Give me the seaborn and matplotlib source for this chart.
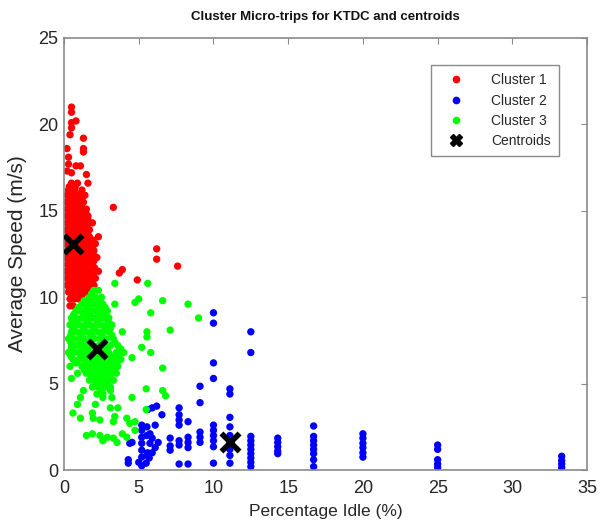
import matplotlib
matplotlib.use("Agg")
import matplotlib.pyplot as plt
from matplotlib.lines import Line2D
import seaborn as sns
import pandas as pd

# ---------------- data ----------------
cluster1_points = [
    (0.5, 21.0), (0.5, 20.7), (0.8, 20.2), (0.5, 20.1), (0.5, 19.8), (0.4, 19.4),
    (1.3, 19.2), (1.3, 18.6), (1.3, 18.4), (0.2, 18.6), (0.3, 18.1), (0.3, 17.7),
    (0.8, 17.6), (1.1, 17.6), (0.2, 17.3), (0.5, 17.2), (1.5, 17.1),
    (0.5, 16.6), (0.9, 16.6), (1.6, 16.6), (0.3, 16.2), (0.7, 16.2), (1.2, 16.2),
    (0.2, 15.9), (0.5, 15.9), (0.8, 15.9), (1.0, 15.9), (1.4, 15.9),
    (0.1, 15.5), (0.4, 15.5), (0.6, 15.5), (1.0, 15.5), (1.3, 15.5),
    (0.2, 15.1), (0.5, 15.1), (0.8, 15.1), (1.1, 15.1), (1.5, 15.1), (3.3, 15.2),
    (0.1, 14.7), (0.3, 14.7), (0.6, 14.7), (0.9, 14.7), (1.2, 14.7), (1.6, 14.7),
    (0.2, 14.3), (0.5, 14.3), (0.8, 14.3), (1.0, 14.3), (1.4, 14.3), (1.9, 14.3),
    (0.1, 13.9), (0.3, 13.9), (0.6, 13.9), (0.9, 13.9), (1.2, 13.9), (1.5, 13.9), (1.7, 13.9),
    (0.2, 13.5), (0.4, 13.5), (0.7, 13.5), (1.0, 13.5), (1.3, 13.5), (1.7, 13.5), (2.3, 13.5),
    (0.1, 13.1), (0.3, 13.1), (0.5, 13.1), (0.8, 13.1), (1.1, 13.1), (1.4, 13.1), (1.8, 13.1), (2.1, 13.1),
    (0.2, 12.7), (0.4, 12.7), (0.7, 12.7), (1.0, 12.7), (1.3, 12.7), (1.6, 12.7), (2.0, 12.7), (6.2, 12.8),
    (0.1, 12.3), (0.3, 12.3), (0.6, 12.3), (0.9, 12.3), (1.2, 12.3), (1.5, 12.3), (1.8, 12.3), (2.2, 12.3), (6.2, 12.2),
    (0.2, 11.9), (0.4, 11.9), (0.7, 11.9), (1.0, 11.9), (1.3, 11.9), (1.6, 11.9), (1.9, 11.9), (7.6, 11.8),
    (0.1, 11.5), (0.3, 11.5), (0.6, 11.5), (0.9, 11.5), (1.2, 11.5), (1.5, 11.5), (1.8, 11.5), (2.3, 11.5),
    (3.9, 11.6), (3.7, 11.4),
    (0.2, 11.1), (0.4, 11.1), (0.7, 11.1), (1.0, 11.1), (1.3, 11.1), (1.6, 11.1), (2.1, 11.1), (4.9, 11.0),
    (0.2, 10.7), (0.5, 10.7), (0.8, 10.7), (1.1, 10.7), (1.4, 10.7), (1.7, 10.7), (2.0, 10.7),
    (0.3, 10.3), (0.5, 10.3), (0.8, 10.3), (1.1, 10.3), (1.4, 10.3),
    (0.4, 9.9), (0.7, 9.9), (1.0, 9.9), (0.4, 9.5), (0.6, 9.5),
    # points between the rows of the dense core
    (0.35, 16.4), (0.75, 16.4), (1.15, 16.0), (0.35, 15.7), (0.75, 15.7), (1.15, 15.7),
    (0.35, 15.3), (0.75, 15.3), (1.15, 15.3), (0.35, 14.9), (0.75, 14.9), (1.15, 14.9), (1.45, 14.9),
    (0.35, 14.5), (0.75, 14.5), (1.15, 14.5), (1.6, 14.5), (0.35, 14.1), (0.75, 14.1), (1.15, 14.1), (1.55, 14.1),
    (0.35, 13.7), (0.75, 13.7), (1.15, 13.7), (1.55, 13.7), (0.35, 13.3), (0.75, 13.3), (1.15, 13.3), (1.55, 13.3), (1.95, 13.3),
    (0.35, 12.9), (0.75, 12.9), (1.15, 12.9), (1.55, 12.9), (1.9, 12.9), (0.35, 12.5), (0.75, 12.5), (1.15, 12.5), (1.55, 12.5), (1.95, 12.5),
    (0.35, 12.1), (0.75, 12.1), (1.15, 12.1), (1.55, 12.1), (2.0, 12.1), (0.35, 11.7), (0.75, 11.7), (1.15, 11.7), (1.55, 11.7), (2.05, 11.7),
    (0.35, 11.3), (0.75, 11.3), (1.15, 11.3), (1.55, 11.3), (1.95, 11.3), (0.35, 10.9), (0.75, 10.9), (1.15, 10.9), (1.55, 10.9), (1.85, 10.9),
    (0.35, 10.5), (0.75, 10.5), (1.15, 10.5), (1.55, 10.5), (0.55, 10.1), (0.9, 10.1), (1.2, 10.1),
]

cluster2_points = [
    (4.3, 0.4), (4.3, 0.6), (4.4, 1.55), (4.55, 1.6), (5.0, 0.45), (5.2, 0.25), (5.2, 0.75),
    (5.2, 1.15), (5.2, 1.55), (5.2, 1.9), (5.2, 2.3), (5.2, 2.6), (5.5, 0.4), (5.55, 0.85),
    (5.55, 2.0), (5.55, 2.5), (5.6, 1.0), (5.6, 3.5), (5.7, 0.7), (5.75, 1.55), (5.75, 2.1),
    (5.9, 1.0), (5.9, 1.85), (5.9, 3.6), (6.1, 1.3), (6.1, 2.6), (6.2, 3.7), (6.3, 1.6), (6.55, 3.2),
    (7.1, 1.15), (7.1, 1.4), (7.1, 1.85),
    (7.7, 0.35), (7.7, 1.45), (7.7, 1.7), (7.7, 2.6), (7.7, 2.9), (7.7, 3.2), (7.7, 3.6),
    (8.3, 0.35), (8.3, 1.3), (8.3, 1.6), (8.3, 1.9), (8.3, 2.8),
    (9.1, 1.6), (9.1, 1.9), (9.1, 2.2), (9.1, 3.9), (9.1, 4.85),
    (10.0, 0.4), (10.0, 1.35), (10.0, 1.7), (10.0, 2.0), (10.0, 2.3), (10.0, 2.6),
    (10.0, 5.3), (10.0, 6.2), (10.0, 8.5), (10.0, 9.1),
    (11.1, 0.4), (11.1, 0.85), (11.1, 1.2), (11.1, 2.0), (11.1, 2.5), (11.1, 3.05), (11.1, 4.4), (11.1, 4.7),
    (12.5, 0.2), (12.5, 0.45), (12.5, 0.7), (12.5, 0.95), (12.5, 1.2), (12.5, 1.45),
    (12.5, 1.7), (12.5, 1.95), (12.5, 6.8), (12.5, 8.0),
    (14.3, 0.95), (14.3, 1.1), (14.3, 1.35), (14.3, 1.6), (14.3, 1.85),
    (16.7, 0.2), (16.7, 0.6), (16.7, 0.95), (16.7, 1.2), (16.7, 1.45), (16.7, 1.7),
    (16.7, 1.95), (16.7, 2.55),
    (20.0, 0.75), (20.0, 1.0), (20.0, 1.3), (20.0, 1.55), (20.0, 1.85), (20.0, 2.1),
    (25.0, 0.15), (25.0, 0.35), (25.0, 0.6), (25.0, 1.2), (25.0, 1.45),
    (33.3, 0.15), (33.3, 0.35), (33.3, 0.55), (33.3, 0.8),
]

cluster3_points = [
    (2.0, 10.4), (2.3, 10.4), (1.7, 10.0), (2.1, 10.0), (2.5, 10.0),
    (1.2, 9.6), (1.5, 9.6), (1.9, 9.6), (2.2, 9.6), (2.6, 9.6),
    (0.8, 9.2), (1.1, 9.2), (1.4, 9.2), (1.8, 9.2), (2.1, 9.2), (2.5, 9.2), (2.9, 9.2),
    (0.5, 8.8), (0.8, 8.8), (1.2, 8.8), (1.5, 8.8), (1.9, 8.8), (2.2, 8.8), (2.6, 8.8), (3.0, 8.8),
    (0.4, 8.4), (0.7, 8.4), (1.0, 8.4), (1.4, 8.4), (1.7, 8.4), (2.1, 8.4), (2.4, 8.4), (2.8, 8.4), (3.2, 8.4),
    (0.5, 8.0), (0.8, 8.0), (1.2, 8.0), (1.5, 8.0), (1.9, 8.0), (2.2, 8.0), (2.6, 8.0), (3.0, 8.0),
    (0.3, 7.6), (0.6, 7.6), (1.0, 7.6), (1.3, 7.6), (1.7, 7.6), (2.0, 7.6), (2.4, 7.6), (2.8, 7.6), (3.3, 7.6),
    (0.5, 7.2), (0.8, 7.2), (1.2, 7.2), (1.5, 7.2), (1.9, 7.2), (2.3, 7.2), (2.7, 7.2), (3.1, 7.2), (3.6, 7.2),
    (0.3, 6.8), (0.7, 6.8), (1.0, 6.8), (1.4, 6.8), (1.8, 6.8), (2.2, 6.8), (2.6, 6.8), (3.0, 6.8), (3.5, 6.8), (4.0, 6.8),
    (0.6, 6.4), (1.0, 6.4), (1.3, 6.4), (1.7, 6.4), (2.1, 6.4), (2.5, 6.4), (2.9, 6.4), (3.3, 6.4), (3.8, 6.4),
    (0.4, 6.0), (1.2, 6.0), (1.6, 6.0), (2.0, 6.0), (2.4, 6.0), (2.8, 6.0), (3.2, 6.0), (3.6, 6.0),
    (0.9, 5.6), (1.5, 5.6), (1.9, 5.6), (2.3, 5.6), (2.7, 5.6), (3.1, 5.6), (3.5, 5.6),
    (1.7, 5.2), (2.1, 5.2), (2.5, 5.2), (2.9, 5.2), (3.3, 5.2),
    (1.9, 4.8), (2.3, 4.8), (2.7, 4.8), (3.1, 4.8), (2.2, 4.4), (2.6, 4.4),
    # points between the rows of the dense core
    (1.85, 10.2), (1.35, 9.8), (1.75, 9.8), (2.4, 9.8), (0.95, 9.4), (1.6, 9.4), (2.35, 9.4), (2.75, 9.4),
    (0.65, 9.0), (1.35, 9.0), (1.7, 9.0), (2.4, 9.0), (2.8, 9.0), (0.55, 8.6), (0.85, 8.6), (1.55, 8.6), (2.25, 8.6), (2.95, 8.6),
    (0.6, 8.2), (1.3, 8.2), (2.0, 8.2), (2.75, 8.2), (3.1, 8.2), (0.45, 7.8), (1.1, 7.8), (1.8, 7.8), (2.5, 7.8), (3.2, 7.8),
    (0.45, 7.4), (1.1, 7.4), (1.7, 7.4), (2.55, 7.4), (3.4, 7.4), (0.5, 7.0), (1.2, 7.0), (1.6, 7.0), (2.85, 7.0), (3.8, 7.0),
    (0.45, 6.6), (1.15, 6.6), (1.55, 6.6), (2.35, 6.6), (2.75, 6.6), (3.15, 6.6), (3.6, 6.6),
    (0.8, 6.2), (1.45, 6.2), (1.85, 6.2), (2.25, 6.2), (2.65, 6.2), (3.05, 6.2), (3.45, 6.2),
    (1.35, 5.8), (1.75, 5.8), (2.15, 5.8), (2.55, 5.8), (2.95, 5.8), (3.35, 5.8),
    (1.85, 5.4), (2.25, 5.4), (2.65, 5.4), (3.05, 5.4), (2.1, 5.0), (2.5, 5.0), (2.9, 5.0),
    # scattered
    (3.4, 10.8), (5.6, 10.8), (5.0, 9.9), (4.75, 9.7), (3.4, 9.6), (6.6, 9.8), (8.3, 9.6),
    (5.8, 9.1), (9.0, 8.8), (7.1, 8.1), (3.9, 8.0), (5.55, 8.0), (5.55, 7.7), (5.2, 7.1),
    (5.8, 6.8), (4.55, 6.5), (6.6, 5.9), (0.5, 5.3), (5.5, 4.7), (6.6, 4.6), (6.8, 4.3),
    (4.55, 4.2), (1.3, 4.6), (1.1, 4.2), (2.5, 4.6), (2.6, 4.2), (3.1, 4.6), (3.2, 4.2),
    (0.9, 3.8), (2.1, 3.8), (0.6, 3.3), (1.9, 3.3), (1.95, 3.0), (3.1, 3.6), (3.6, 3.6),
    (3.4, 3.1), (3.3, 2.8), (4.2, 3.0), (4.4, 2.7), (4.75, 2.8), (5.5, 3.5), (1.1, 3.0),
    (2.4, 2.9), (1.5, 2.0), (1.9, 2.1), (2.4, 2.0), (2.6, 1.7), (2.9, 1.9), (3.3, 1.85),
    (3.9, 2.1), (3.55, 1.6), (4.2, 1.9), (4.75, 2.3),
]

centroids = [(0.6, 13.1), (2.2, 7.0), (11.1, 1.6)]

cluster_names = ["Cluster 1", "Cluster 2", "Cluster 3"]
cluster_colors = ["#ff0000", "#0000ff", "#00ff00"]
x_ticks = [0, 5, 10, 15, 20, 25, 30, 35]
y_ticks = [0, 5, 10, 15, 20, 25]

# ---------------- build table ----------------
rows = []
for name, pts in zip(cluster_names, [cluster1_points, cluster2_points, cluster3_points]):
    for x, y in pts:
        rows.append({"idle": x, "speed": y, "cluster": name})
df = pd.DataFrame(rows)
cent = pd.DataFrame(centroids, columns=["idle", "speed"])

# ---------------- plot ----------------
sns.set_style("white")
plt.rcParams["font.family"] = ["Liberation Sans", "DejaVu Sans"]

fig = plt.figure(figsize=(6.04, 5.20), dpi=100)
ax = fig.add_axes([0.106, 0.096, 0.866, 0.831])

sns.scatterplot(data=df, x="idle", y="speed", hue="cluster", hue_order=cluster_names,
                palette=cluster_colors, s=28, linewidth=0, edgecolor="none",
                legend=False, ax=ax, zorder=2)
sns.scatterplot(data=cent, x="idle", y="speed", marker="x", color="black",
                s=170, linewidth=4, legend=False, ax=ax, zorder=3)

ax.set_xlim(0, 35)
ax.set_ylim(0, 25)
ax.set_xticks(x_ticks)
ax.set_yticks(y_ticks)
ax.tick_params(direction="in", length=4, width=0.8, color="#8a8a8a",
               top=True, right=True, labelsize=13, labelcolor="#262626")
ax.tick_params(axis="x", pad=7)
ax.tick_params(axis="y", pad=4)
for sp in ax.spines.values():
    sp.set_visible(True)
    sp.set_color("#8a8a8a")
    sp.set_linewidth(1.2)

ax.set_xlabel("Percentage Idle (%)", fontsize=12.5, color="#262626", labelpad=5)
ax.set_ylabel("Average Speed (m/s)", fontsize=15, color="#262626", labelpad=8)
ax.set_title("Cluster Micro-trips for KTDC and centroids", fontsize=9.5,
             fontweight="bold", color="#111111", pad=13)

handles = [Line2D([0], [0], marker="o", linestyle="none", markersize=4.5,
                  markerfacecolor=c, markeredgecolor=c) for c in cluster_colors]
handles.append(Line2D([0], [0], marker="X", linestyle="none", markersize=9,
                      markerfacecolor="black", markeredgecolor="black"))
leg = ax.legend(handles, cluster_names + ["Centroids"], loc="upper right",
                bbox_to_anchor=(0.946, 0.9375), fontsize=10, frameon=True,
                fancybox=False, framealpha=1, edgecolor="#8a8a8a",
                labelspacing=0.45, handletextpad=1.3, borderpad=0.6,
                handlelength=2.4, borderaxespad=0)
leg.get_frame().set_linewidth(1.0)
for t in leg.get_texts():
    t.set_color("#262626")

fig.savefig("out.png", dpi=100)
